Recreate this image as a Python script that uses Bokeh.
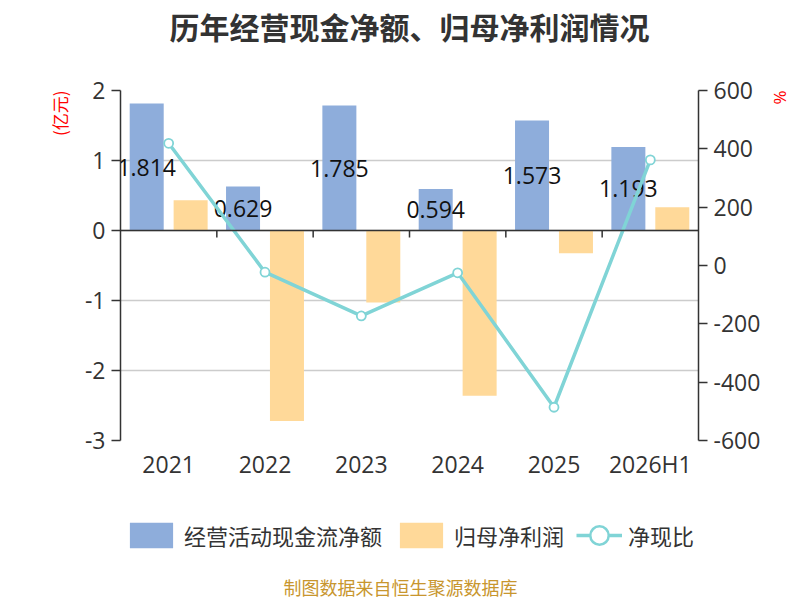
from bokeh.plotting import figure
from bokeh.layouts import column
from bokeh.models import (ColumnDataSource, FactorRange, Range1d, LinearAxis, FixedTicker,
                          Span, Title, Legend, LegendItem, PrintfTickFormatter, Label)
from bokeh.transform import dodge
from bokeh.core.properties import value
from bokeh.embed import file_html
from bokeh.resources import INLINE

years = ["2021", "2022", "2023", "2024", "2025", "2026H1"]
cash_flow = [1.814, 0.629, 1.785, 0.594, 1.573, 1.193]
net_profit = [0.433, -2.72, -1.03, -2.36, -0.324, 0.333]
ratio = [419, -23, -173, -25, -486, 362]
left_ticks = [-3, -2, -1, 0, 1, 2]
right_ticks = [-600, -400, -200, 0, 200, 400, 600]
series_names = ["经营活动现金流净额", "归母净利润", "净现比"]

BLUE = "#8EADDB"
YELLOW = "#FFD999"
TEAL = "#80D4D6"
DARK = "#333333"
NUM_FONT = "Open Sans"
CJK_FONT = "Noto Sans CJK SC"

src = ColumnDataSource(dict(
    year=years, cash=cash_flow, profit=net_profit, ratio=ratio,
    label_y=[v / 2 for v in cash_flow],
    label=[f"{v:.3f}" for v in cash_flow],
))
tick_src = ColumnDataSource(dict(year=years[:-1]))

p = figure(x_range=FactorRange(*years, range_padding=0), y_range=Range1d(-3, 2),
           frame_width=578, frame_height=350,
           min_border_left=120, min_border_right=102, min_border_top=90, min_border_bottom=60,
           output_backend="svg", toolbar_location=None)
p.extra_y_ranges = {"pct": Range1d(-600, 600)}
p.outline_line_color = None
p.xgrid.grid_line_color = None
p.ygrid.grid_line_color = "#CCCCCC"
p.ygrid.grid_line_width = 1.5
p.ygrid.ticker = FixedTicker(ticks=left_ticks)
p.title.text = ""

# spacer (closest to the frame), then the visible title above it
p.add_layout(Title(text=" ", text_font_size="2px", standoff=39), "above")
p.add_layout(Title(text="历年经营现金净额、归母净利润情况", align="center", standoff=0,
                   text_font=CJK_FONT, text_font_size="30px", text_font_style="bold",
                   text_color=DARK), "above")


def style_y_axis(a):
    a.axis_line_color = DARK
    a.axis_line_width = 1.5
    a.major_tick_line_color = DARK
    a.major_tick_line_width = 1.5
    a.major_tick_out = 9
    a.major_tick_in = 0
    a.minor_tick_line_color = None
    a.major_label_standoff = 6
    a.major_label_text_font = NUM_FONT
    a.major_label_text_font_size = "23px"
    a.major_label_text_color = DARK
    a.formatter = PrintfTickFormatter(format="%d")


ax = p.yaxis[0]
ax.ticker = FixedTicker(ticks=left_ticks)
style_y_axis(ax)

rax = LinearAxis(y_range_name="pct", ticker=FixedTicker(ticks=right_ticks))
style_y_axis(rax)
p.add_layout(rax, "right")

xa = p.xaxis[0]
xa.axis_line_color = None
xa.major_tick_line_color = None
xa.major_tick_out = 0
xa.major_tick_in = 0
xa.minor_tick_line_color = None
xa.major_label_standoff = 7
xa.major_label_text_font = NUM_FONT
xa.major_label_text_font_size = "23px"
xa.major_label_text_color = DARK

b1 = p.vbar(x=dodge("year", -0.228, range=p.x_range), top="cash", bottom=0, width=0.353,
            source=src, fill_color=BLUE, line_color=None)
b2 = p.vbar(x=dodge("year", 0.228, range=p.x_range), top="profit", bottom=0, width=0.353,
            source=src, fill_color=YELLOW, line_color=None)

p.add_layout(Span(location=0, dimension="width", line_color=DARK, line_width=1.5))
p.segment(x0=dodge("year", 0.5, range=p.x_range), x1=dodge("year", 0.5, range=p.x_range),
          y0=0, y1=-0.1, source=tick_src, line_color=DARK, line_width=1.5)

p.text(x=dodge("year", -0.228, range=p.x_range), y="label_y", text="label", source=src,
       text_font=value(NUM_FONT), text_font_size="23px", text_align="center",
       text_baseline="middle", text_color="#111111")

ln = p.line(x="year", y="ratio", y_range_name="pct", source=src, line_color=TEAL, line_width=3.5)
sc = p.scatter(x="year", y="ratio", y_range_name="pct", source=src, size=9, marker="circle",
               fill_color="white", line_color=TEAL, line_width=1.8)

p.add_layout(Title(text="(亿元)", align="right", standoff=20,
                   text_font=CJK_FONT, text_font_size="17px", text_font_style="normal",
                   text_color="red"), "left")
p.add_layout(Title(text="%", align="left", standoff=10,
                   text_font=NUM_FONT, text_font_size="17px", text_font_style="normal",
                   text_color="red"), "right")

# legend + source note strip (its frame spans the same columns as the chart frame)
lp = figure(x_range=Range1d(120, 698), y_range=Range1d(600, 500), width=800, height=100,
            min_border_left=120, min_border_right=102, min_border_top=0, min_border_bottom=0,
            x_axis_type=None, y_axis_type=None, output_backend="svg", toolbar_location=None)
lp.outline_line_color = None
lp.grid.visible = False
lp.title.text = ""
nan = float("nan")
proxy = ColumnDataSource(dict(x=[nan], y=[nan]))
lb1 = lp.vbar(x="x", top="y", width=1, source=proxy, fill_color=BLUE, line_color=None)
lb2 = lp.vbar(x="x", top="y", width=1, source=proxy, fill_color=YELLOW, line_color=None)
lln = lp.line(x="x", y="y", source=proxy, line_color=TEAL, line_width=3.5)
lsc = lp.scatter(x="x", y="y", source=proxy, marker="circle", size=9, fill_color="white",
                 line_color=TEAL, line_width=2.5)

leg1 = Legend(items=[LegendItem(label=series_names[0], renderers=[lb1]),
                     LegendItem(label=series_names[1], renderers=[lb2])],
              orientation="horizontal", location=(4, 49),
              glyph_width=54, glyph_height=32, label_standoff=6, spacing=12,
              padding=0, margin=0, border_line_color=None, background_fill_alpha=0,
              label_text_font=CJK_FONT, label_text_font_size="22px", label_text_color=DARK)
leg2 = Legend(items=[LegendItem(label=series_names[2], renderers=[lln, lsc])],
              orientation="horizontal", location=(456, 41),
              glyph_width=46, glyph_height=48, label_standoff=6,
              padding=0, margin=0, border_line_color=None, background_fill_alpha=0,
              label_text_font=CJK_FONT, label_text_font_size="22px", label_text_color=DARK)
lp.add_layout(leg1)
lp.add_layout(leg2)
lp.add_layout(Label(x=400, y=586, text="制图数据来自恒生聚源数据库", text_align="center",
                    text_baseline="middle", text_font=CJK_FONT, text_font_size="18px",
                    text_color="#C8962E"))

layout = column(p, lp, spacing=0)
open("out.html", "w").write(file_html(layout, INLINE))
